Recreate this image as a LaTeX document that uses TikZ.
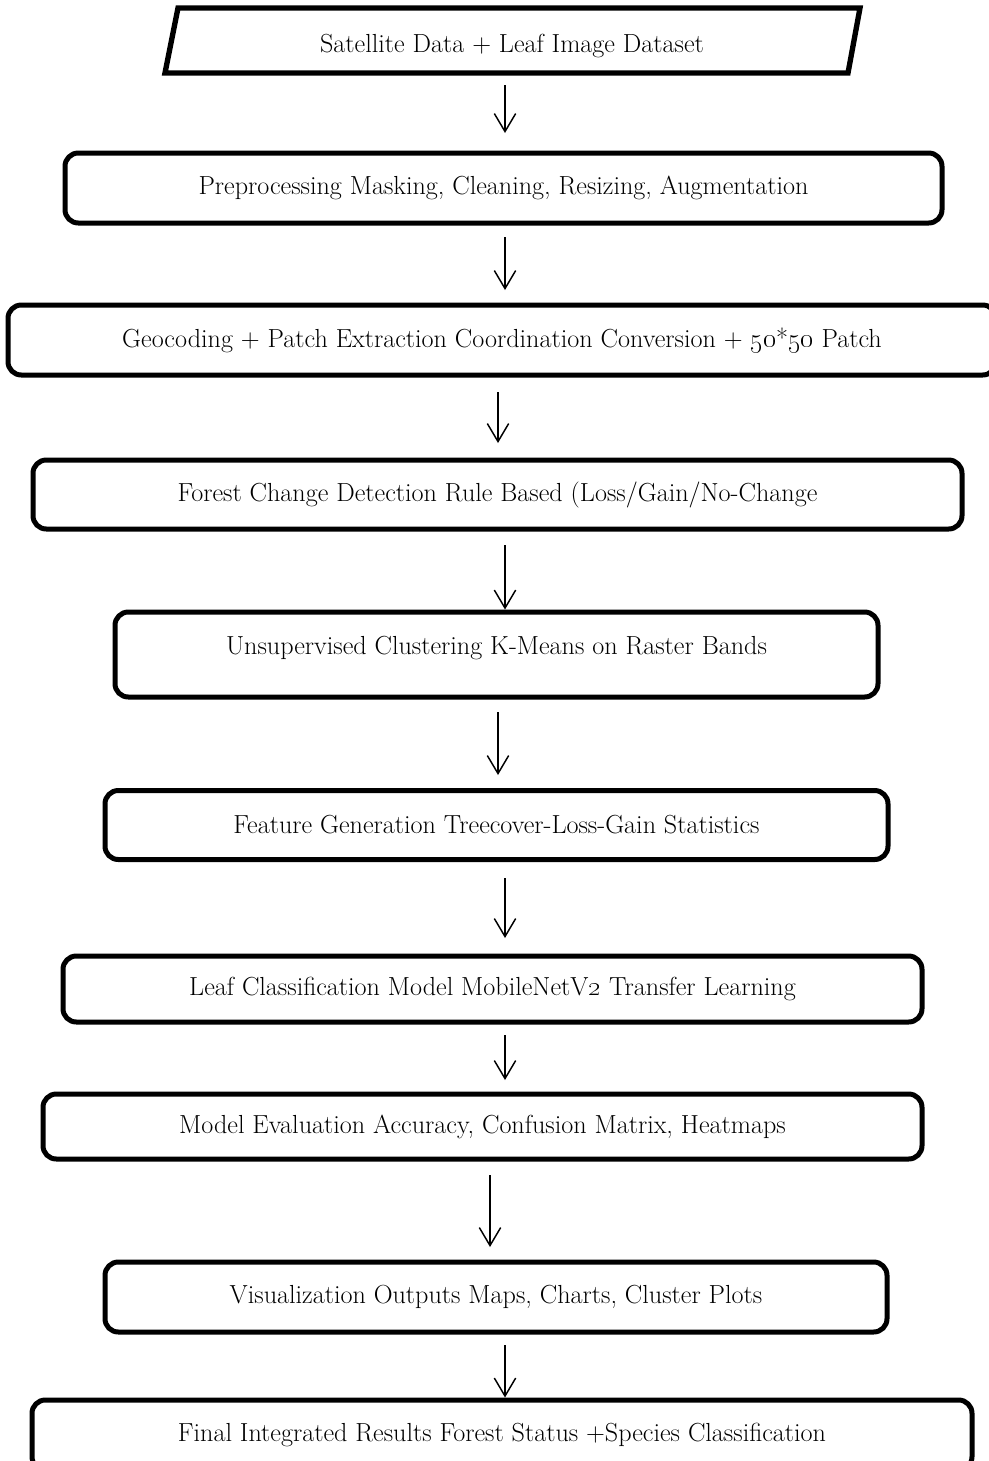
\documentclass[tikz,border=0pt]{standalone}
\usetikzlibrary{arrows.meta}
\begin{document}
\begin{tikzpicture}[x=0.75pt,y=-0.75pt,
  box/.style={draw=black,line width=3.75pt,rounded corners=10pt,inner sep=0pt,font=\fontsize{19.6}{23}\selectfont},
  txt/.style={inner sep=0pt,font=\fontsize{19.6}{23}\selectfont},
  arr/.style={line width=1.1pt,-{Straight Barb[length=13.5pt,width=16pt,line width=1.1pt]}}]
\useasboundingbox (0,0) rectangle (989,1461);
% input parallelogram
\draw[line width=4pt,line join=miter] (178,8) -- (860,8) -- (848,73) -- (165,73) -- cycle;
\node[txt] (b0) at (512,46) {Satellite Data + Leaf Image Dataset};
\coordinate (a0) at (505,85);
% boxes
\node[box,minimum width=877*0.75pt,minimum height=70*0.75pt] (b1) at (503.5,188) {Preprocessing Masking, Cleaning, Resizing, Augmentation};
\node[box,minimum width=988*0.75pt,minimum height=70*0.75pt] (b2) at (502,340) {Geocoding + Patch Extraction Coordination Conversion + \oldstylenums{50}*\oldstylenums{50} Patch};
\node[box,minimum width=929*0.75pt,minimum height=69*0.75pt] (b3) at (497.5,494.5) {Forest Change Detection Rule Based (Loss/Gain/No-Change};
\node[box,minimum width=763*0.75pt,minimum height=85*0.75pt,label={[txt,yshift=4.5pt]center:Unsupervised Clustering K-Means on Raster Bands}] (b4) at (496.5,654.5) {};
\node[box,minimum width=783*0.75pt,minimum height=69*0.75pt] (b5) at (496.5,825) {Feature Generation Treecover-Loss-Gain Statistics};
\node[box,minimum width=859*0.75pt,minimum height=66*0.75pt] (b6) at (492.5,989) {Leaf Classification Model MobileNetV\oldstylenums{2} Transfer Learning};
\node[box,minimum width=879*0.75pt,minimum height=65*0.75pt] (b7) at (482.5,1126.5) {Model Evaluation Accuracy, Confusion Matrix, Heatmaps};
\node[box,minimum width=782*0.75pt,minimum height=70*0.75pt] (b8) at (496,1297) {Visualization Outputs Maps, Charts, Cluster Plots};
\node[box,minimum width=940*0.75pt,minimum height=70*0.75pt] (b9) at (502,1435) {Final Integrated Results Forest Status +Species Classification};
% arrows
\coordinate (t1) at (505,133);
\coordinate (s2) at (505,237); \coordinate (t2) at (505,290);
\coordinate (s3) at (498,392); \coordinate (t3) at (498,443);
\coordinate (s4) at (505,545);
\coordinate (s5) at (498,712); \coordinate (t5) at (498,775);
\coordinate (s6) at (505,878); \coordinate (t6) at (505,938);
\coordinate (s7) at (505,1035); \coordinate (t7) at (505,1080);
\coordinate (s8) at (490,1175); \coordinate (t8) at (490,1247);
\coordinate (s9) at (505,1345);
\draw[arr] (a0) -- (t1);
\draw[arr] (s2) -- (t2);
\draw[arr] (s3) -- (t3);
\draw[arr] (s4) -- (s4 |- b4.north);
\draw[arr] (s5) -- (t5);
\draw[arr] (s6) -- (t6);
\draw[arr] (s7) -- (t7);
\draw[arr] (s8) -- (t8);
\draw[arr] (s9) -- (s9 |- b9.north);
\end{tikzpicture}
\end{document}
